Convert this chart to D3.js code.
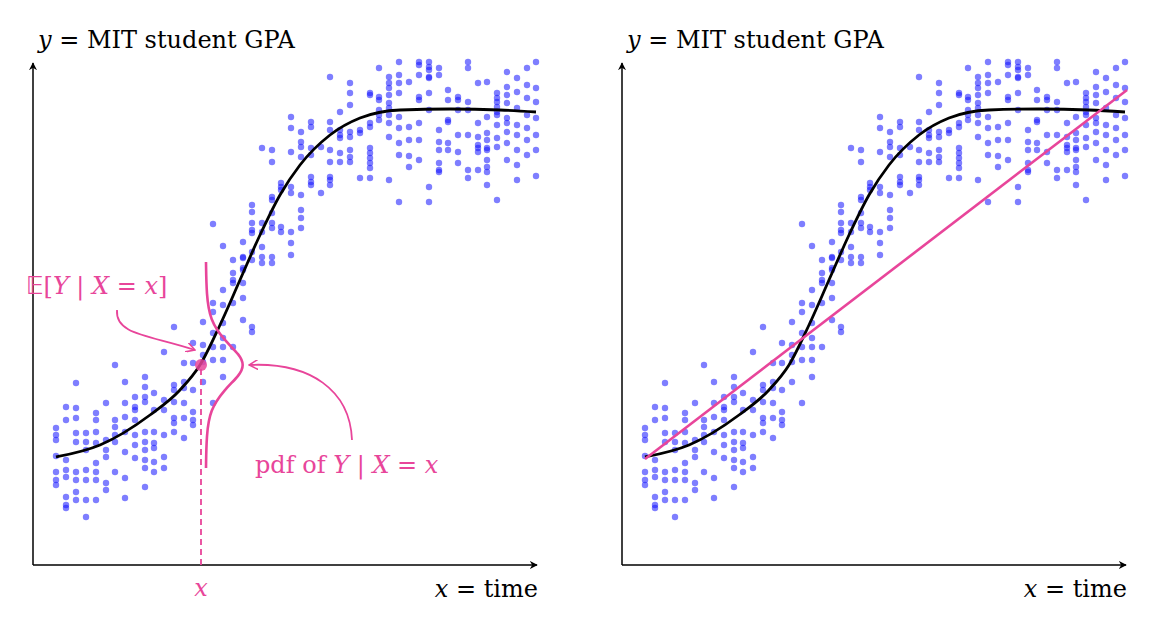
<!DOCTYPE html>
<html>
<head>
<meta charset="utf-8">
<script src="https://cdn.jsdelivr.net/npm/d3@7"></script>
<style>
  body { margin: 0; background: #fff; }
</style>
</head>
<body>
<script>
// column positions (time units) and the GPA readings in each column (vertical units, larger = lower)
var colX = [56, 66, 76, 86, 96, 106, 115, 125, 135, 145, 154, 164, 174, 184, 193, 203, 213, 223, 233, 243,
            252, 262, 272, 281, 291, 301, 311, 321, 330, 340, 350, 360, 370, 379, 389, 399, 409, 419, 429, 439,
            448, 458, 468, 478, 487, 497, 507, 517, 527, 536];
var colY = [
  [428, 435, 440, 456, 472, 480, 485],
  [407, 420, 460, 470, 477, 497, 505, 508],
  [383, 408, 418, 433, 442, 472, 480, 492, 500],
  [433, 442, 450, 470, 480, 500, 517],
  [413, 420, 432, 443, 463, 472, 480, 500],
  [403, 440, 450, 457, 483, 490],
  [365, 420, 427, 435, 442, 472],
  [382, 403, 417, 432, 452, 478, 498],
  [397, 407, 410, 420, 435, 445, 458],
  [377, 387, 397, 402, 432, 442, 450, 460, 468, 487],
  [393, 410, 432, 443, 448, 462, 472],
  [352, 400, 410, 435, 457, 468],
  [327, 385, 390, 402, 418, 423, 432],
  [363, 382, 388, 403, 418, 438],
  [343, 363, 390, 412, 420, 425],
  [322, 345, 355, 362, 382],
  [224, 303, 312, 333, 347, 360, 403],
  [246, 290, 305, 323, 338, 347, 360, 377],
  [260, 273, 280, 283, 303, 347],
  [242, 257, 258, 268, 270, 283, 298, 320],
  [205, 212, 223, 230, 233, 252, 260, 327, 332],
  [148, 223, 232, 247, 257, 263],
  [150, 162, 197, 200, 213, 223, 228, 257, 263],
  [183, 187, 190, 227, 232],
  [117, 128, 152, 187, 193, 232, 243, 255],
  [132, 142, 147, 157, 195, 210, 218, 228],
  [122, 127, 148, 155, 177, 182, 185],
  [147, 193],
  [77, 122, 130, 150, 162, 177, 180, 185],
  [112, 130, 135, 138, 153, 162],
  [83, 93, 105, 132, 137, 150, 157, 162],
  [130, 133, 178],
  [93, 95, 123, 127, 148, 153, 158, 163, 168, 178],
  [68, 97, 100, 110, 115, 120],
  [77, 83, 88, 95, 103, 108, 115, 123, 137, 180],
  [62, 75, 83, 93, 117, 128, 143, 155, 202],
  [82, 127, 140, 156, 167],
  [62, 65, 75, 97, 100, 123, 140, 160],
  [62, 67, 70, 77, 78, 93, 110, 187, 202],
  [68, 75, 130, 142, 150, 163, 170, 172],
  [90, 100, 120, 122, 143, 150],
  [97, 100, 110, 135, 152, 163],
  [62, 68, 102, 110, 135, 170, 178],
  [83, 123, 137, 145, 148, 152, 170],
  [82, 117, 133, 140, 148, 150, 160, 167, 172, 185],
  [93, 98, 102, 107, 112, 115, 125, 138, 147, 200],
  [72, 87, 95, 103, 118, 123, 132, 143, 160],
  [78, 92, 108, 125, 135, 150, 165, 180],
  [68, 85, 98, 115, 128, 140, 155],
  [62, 88, 102, 118, 135, 150, 176]
];
// conditional mean E[Y | X]
var meanX = [56, 100, 150, 180, 200, 220, 240, 260, 280, 300, 330, 360, 400, 450, 500, 536];
var meanY = [457, 445, 415, 390, 365, 325, 280, 235, 195, 165, 135, 118, 110, 109, 110, 112];
// linear fit end points
var fitX = [56, 538];
var fitY = [459, 90];
// highlighted x and conditional pdf (vertical offset, density)
var x0 = 201, y0 = 365;
var pdfOffset = [-103, -70, -45, -25, -10, 0, 10, 25, 45, 70, 103];
var pdfDens   = [0, 0.5, 4, 18, 34, 38, 34, 18, 4, 0.5, 0];

var pink = "#e8459a";
var FONT = "'DejaVu Serif', serif";
var FS = 24;
var W = 1152, H = 620;
var svg = d3.select("body").append("svg").attr("width", W).attr("height", H);

var defs = svg.append("defs");
defs.append("marker").attr("id", "ah").attr("viewBox", "0 0 10 10")
  .attr("refX", 9).attr("refY", 5).attr("markerWidth", 8).attr("markerHeight", 8)
  .attr("orient", "auto").attr("markerUnits", "userSpaceOnUse")
  .append("path").attr("d", "M0,0 L10,5 L0,10 L3,5 Z").attr("fill", "#000");
defs.append("marker").attr("id", "ahp").attr("viewBox", "0 0 10 10")
  .attr("refX", 9).attr("refY", 5).attr("markerWidth", 10).attr("markerHeight", 10)
  .attr("orient", "auto").attr("markerUnits", "userSpaceOnUse")
  .append("path").attr("d", "M0,0 L9,5 L0,10").attr("fill", "none").attr("stroke", pink).attr("stroke-width", 1.5);

function panel(offset, right) {
  var g = svg.append("g").attr("transform", "translate(" + offset + ",0)");
  var x = d3.scaleLinear().domain([33, 538]).range([33, 538]);
  var y = d3.scaleLinear().domain([62, 565]).range([62, 565]);

  g.append("line").attr("x1", 33).attr("y1", 565).attr("x2", 537).attr("y2", 565)
    .attr("stroke", "#000").attr("stroke-width", 1.5).attr("marker-end", "url(#ah)");
  g.append("line").attr("x1", 33).attr("y1", 565).attr("x2", 33).attr("y2", 63)
    .attr("stroke", "#000").attr("stroke-width", 1.5).attr("marker-end", "url(#ah)");

  var pts = [];
  colX.forEach(function (cx, i) { colY[i].forEach(function (v) { pts.push([cx, v]); }); });
  g.selectAll("circle.pt").data(pts).enter().append("circle").attr("class", "pt")
    .attr("cx", function (d) { return x(d[0]); }).attr("cy", function (d) { return y(d[1]); })
    .attr("r", 3.2).attr("fill", "rgba(20,20,255,0.55)");

  var line = d3.line().curve(d3.curveMonotoneX)
    .x(function (d) { return x(d[0]); }).y(function (d) { return y(d[1]); });
  g.append("path").attr("d", line(meanX.map(function (v, i) { return [v, meanY[i]]; })))
    .attr("fill", "none").attr("stroke", "#000").attr("stroke-width", 2.8);

  g.append("text").attr("x", 38).attr("y", 48).attr("font-size", FS).attr("font-family", FONT)
    .html('<tspan font-style="italic">y</tspan> = MIT student GPA');
  g.append("text").attr("x", 538).attr("y", 597).attr("font-size", FS).attr("font-family", FONT)
    .attr("text-anchor", "end")
    .html('<tspan font-style="italic">x</tspan> = time');

  if (right) {
    g.append("line").attr("x1", x(fitX[0])).attr("y1", y(fitY[0])).attr("x2", x(fitX[1])).attr("y2", y(fitY[1]))
      .attr("stroke", pink).attr("stroke-width", 2.6);
  } else {
    g.append("line").attr("x1", x(x0)).attr("x2", x(x0)).attr("y1", 565).attr("y2", y(y0))
      .attr("stroke", pink).attr("stroke-width", 1.8).attr("stroke-dasharray", "6,4");
    var pl = d3.line().curve(d3.curveBasis)
      .x(function (d) { return x(206) + d[1]; }).y(function (d) { return y(y0 + d[0]); });
    g.append("path").attr("d", pl(pdfOffset.map(function (o, i) { return [o, pdfDens[i]]; })))
      .attr("fill", "none").attr("stroke", pink).attr("stroke-width", 2.6);
    g.append("circle").attr("cx", x(x0)).attr("cy", y(y0)).attr("r", 6).attr("fill", pink).attr("opacity", 0.85);

    g.append("path").attr("d", "M117,310 C115,335 150,335 195,350")
      .attr("fill", "none").attr("stroke", pink).attr("stroke-width", 1.8).attr("marker-end", "url(#ahp)");
    g.append("path").attr("d", "M352,440 C350,390 310,362 249,365")
      .attr("fill", "none").attr("stroke", pink).attr("stroke-width", 1.8).attr("marker-end", "url(#ahp)");

    g.append("text").attr("x", 26).attr("y", 294).attr("font-size", FS).attr("fill", pink).attr("font-family", FONT)
      .html('<tspan font-family="DejaVu Sans">𝔼</tspan>[<tspan font-style="italic">Y</tspan> | <tspan font-style="italic">X</tspan> = <tspan font-style="italic">x</tspan>]');
    g.append("text").attr("x", 255).attr("y", 473).attr("font-size", FS).attr("fill", pink).attr("font-family", FONT)
      .html('pdf of <tspan font-style="italic">Y</tspan> | <tspan font-style="italic">X</tspan> = <tspan font-style="italic">x</tspan>');
    g.append("text").attr("x", x(x0)).attr("y", 596).attr("font-size", FS).attr("fill", pink).attr("font-family", FONT)
      .attr("text-anchor", "middle").attr("font-style", "italic").text("x");
  }
}
panel(0, false);
panel(589, true);
</script>
</body>
</html>
